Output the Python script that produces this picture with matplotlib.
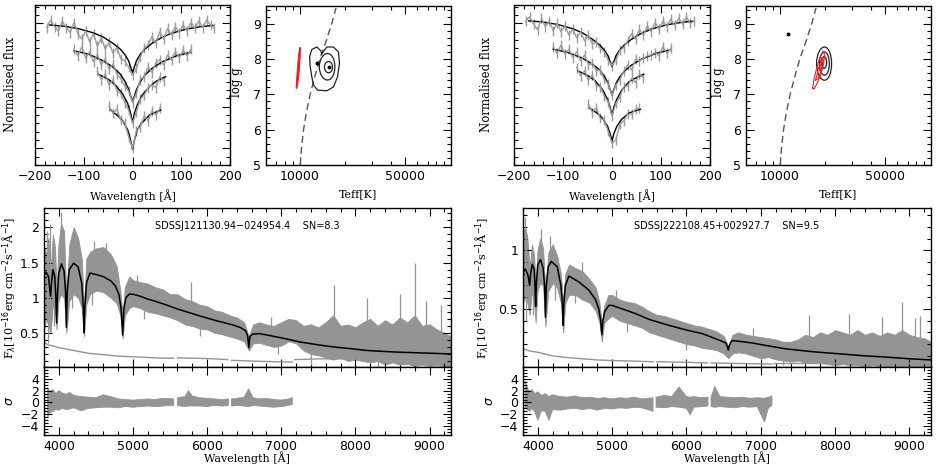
import numpy as np
import matplotlib
matplotlib.use("Agg")
import matplotlib.pyplot as plt
from matplotlib.ticker import MultipleLocator, FixedLocator, FuncFormatter, NullFormatter
from matplotlib.patches import Ellipse, Polygon

plt.rcParams['font.family'] = ['DejaVu Sans']
plt.rcParams['axes.unicode_minus'] = True
SERIF = 'DejaVu Serif'

# ---------------- data: line profiles (offset normalised flux) ----------------
# left object
L_hb_mx = [-170, -140, -110, -80, -60, -40, -25, -15, -8, 0, 8, 15, 25, 40, 60, 80, 110, 140, 165]
L_hb_my = [3.36, 3.33, 3.27, 3.17, 3.07, 2.92, 2.78, 2.64, 2.50, 2.22, 2.50, 2.64, 2.78, 2.92, 3.06, 3.16, 3.26, 3.32, 3.35]
L_hg_mx = [-120, -90, -60, -40, -25, -15, -8, 0, 8, 15, 25, 40, 60, 90, 118]
L_hg_my = [2.74, 2.66, 2.50, 2.35, 2.18, 2.00, 1.82, 1.52, 1.80, 1.98, 2.15, 2.32, 2.47, 2.62, 2.70]
L_hd_mx = [-70, -50, -35, -20, -10, -4, 0, 4, 10, 20, 35, 50, 68]
L_hd_my = [2.18, 2.06, 1.92, 1.70, 1.48, 1.25, 1.02, 1.25, 1.45, 1.68, 1.88, 2.02, 2.12]
L_he_mx = [-45, -30, -20, -10, -4, 0, 4, 10, 20, 35, 58]
L_he_my = [1.32, 1.18, 1.06, 0.85, 0.60, 0.38, 0.60, 0.85, 1.02, 1.20, 1.32]

L_hb_obs = [3.30, 3.48, 3.32, 3.22, 3.45, 3.30, 3.18, 3.42, 3.15, 3.02, 3.22, 2.95, 3.15, 2.85, 3.05,
            2.78, 2.95, 2.68, 2.82, 2.55, 2.50, 2.35, 2.15, 2.32, 2.60, 2.80, 2.88, 3.08, 2.92, 3.20,
            3.02, 3.28, 3.12, 3.32, 3.18, 3.36, 3.22, 3.42, 3.28, 3.46, 3.30, 3.48, 3.36, 3.28]
L_hg_obs = [2.78, 2.62, 2.84, 2.56, 2.72, 2.48, 2.65, 2.40, 2.55, 2.30, 2.42, 2.18, 2.08, 1.90, 1.78,
            1.50, 1.72, 2.05, 2.12, 2.35, 2.22, 2.46, 2.52, 2.40, 2.64, 2.52, 2.72, 2.58, 2.76, 2.62, 2.78]
L_hd_obs = [2.25, 2.05, 2.18, 1.92, 2.05, 1.78, 1.72, 1.50, 1.32, 1.00, 1.28, 1.58, 1.68, 1.85, 1.92,
            1.86, 2.12, 2.02]
L_he_obs = [1.42, 1.24, 1.34, 1.08, 1.02, 0.68, 0.40, 0.82, 0.92, 1.18, 1.06, 1.30, 1.20, 1.36]

# right object
R_hb_my = [3.46, 3.43, 3.37, 3.27, 3.17, 3.02, 2.88, 2.75, 2.62, 2.36, 2.62, 2.75, 2.88, 3.02, 3.16, 3.26, 3.36, 3.42, 3.45]
R_hg_my = [2.78, 2.70, 2.56, 2.42, 2.28, 2.12, 1.96, 1.68, 1.95, 2.10, 2.25, 2.40, 2.54, 2.68, 2.76]
R_hd_mx = [-70, -50, -35, -20, -10, -4, 0, 4, 10, 20, 35, 50, 65]
R_hd_my = [2.26, 2.15, 2.03, 1.82, 1.60, 1.40, 1.20, 1.40, 1.58, 1.80, 2.00, 2.10, 2.18]
R_he_my = [1.36, 1.24, 1.13, 0.95, 0.76, 0.58, 0.76, 0.93, 1.10, 1.25, 1.34]

R_hb_obs = [3.45, 3.56, 3.38, 3.25, 3.52, 3.32, 3.46, 3.22, 3.40, 3.20, 3.34, 3.12, 3.26, 3.05, 3.20,
            2.98, 3.12, 2.90, 2.95, 2.80, 2.72, 2.52, 2.38, 2.52, 2.75, 2.82, 2.98, 3.15, 3.02, 3.26,
            3.12, 3.34, 3.20, 3.42, 3.26, 3.46, 3.32, 3.50, 3.35, 3.52, 3.38, 3.55, 3.40, 3.46]
R_hg_obs = [2.84, 2.68, 2.88, 2.66, 2.78, 2.58, 2.72, 2.50, 2.64, 2.40, 2.45, 2.26, 2.28, 2.06, 1.95,
            1.68, 1.92, 2.05, 2.25, 2.40, 2.28, 2.54, 2.50, 2.56, 2.62, 2.64, 2.70, 2.62, 2.84, 2.68, 2.80]
R_hd_obs = [2.34, 2.14, 2.26, 2.04, 2.16, 1.90, 1.88, 1.66, 1.52, 1.18, 1.48, 1.64, 1.88, 1.90, 2.08,
            1.98, 2.18, 2.10]
R_he_obs = [1.46, 1.26, 1.38, 1.12, 1.08, 0.82, 0.52, 0.60, 0.98, 1.06, 1.22, 1.22, 1.34, 1.36]

hb_ox = list(range(-176, 169, 8))
hg_ox = list(range(-120, 121, 8))
hd_ox = list(range(-72, 65, 8))
he_ox = list(range(-48, 57, 8))
prof_err = 0.12

# ---------------- data: Teff / log g planes ----------------
dash_teff = [10100, 10300, 10620, 11100, 11750, 12600, 13600, 14950, 16300, 17400]
dash_logg = [5.0, 5.5, 6.0, 6.5, 7.0, 7.5, 8.0, 8.5, 9.0, 9.45]

L_heart_teff = [14030, 15130, 16740, 18060, 18340, 17790, 16740, 15130, 13140, 12360, 12050, 11750, 11640, 12050, 13000, 13820, 14030]
L_heart_logg = [8.15, 8.34, 8.34, 8.20, 7.87, 7.49, 7.21, 7.10, 7.12, 7.26, 7.49, 7.78, 8.06, 8.27, 8.34, 8.23, 8.15]
L_ell_teff = [15300, 15550]
L_ell_logg = [7.78, 7.77]
L_ell_w = [3600, 1900]
L_ell_h = [0.75, 0.32]
L_dot_teff = [13100, 15650]
L_dot_logg = [7.90, 7.78]
L_red_teff = [9500, 9580, 9700, 9850, 10000, 10100, 10130, 10050, 9920, 9740, 9580, 9480, 9500]
L_red_logg = [7.20, 7.45, 7.80, 8.10, 8.28, 8.33, 8.25, 7.95, 7.60, 7.32, 7.17, 7.18, 7.20]

R_ell_teff = [19800, 19800, 19700]
R_ell_logg = [7.87, 7.87, 7.90]
R_ell_w = [4500, 3000, 1500]
R_ell_h = [0.94, 0.66, 0.33]
R_dot_teff = [11290]
R_dot_logg = [8.72]
R_red1_teff = [16500, 16900, 17600, 18400, 19300, 19900, 19500, 18700, 17700, 16900, 16500]
R_red1_logg = [7.17, 7.45, 7.75, 8.02, 8.22, 8.12, 7.85, 7.55, 7.32, 7.15, 7.17]
R_red2_teff = [17300, 18100, 19000, 19500, 18900, 18000, 17300]
R_red2_logg = [7.40, 7.75, 8.05, 7.98, 7.70, 7.45, 7.40]
R_red3_teff = [18300, 18900, 19200, 18700, 18300]
R_red3_logg = [7.70, 7.95, 7.90, 7.65, 7.70]

# ---------------- data: spectra ----------------
band_wave = [3800, 3830, 3860, 3889, 3920, 3950, 3970, 3995, 4030, 4070, 4102, 4140, 4200, 4260, 4310, 4340,
             4370, 4420, 4500, 4600, 4700, 4780, 4830, 4861, 4890, 4950, 5000, 5100, 5200, 5300, 5400, 5500,
             5600, 5700, 5800, 5900, 6000, 6100, 6200, 6300, 6400, 6500, 6563, 6620, 6700, 6800, 6900, 7000,
             7100, 7200, 7300, 7400, 7500, 7600, 7700, 7800, 7900, 8000, 8100, 8200, 8300, 8400, 8500, 8600,
             8700, 8800, 8900, 9000, 9100, 9200, 9290]
L_hi = [1.75, 1.60, 1.85, 1.40, 1.90, 1.70, 1.10, 1.75, 2.05, 1.95, 1.00, 1.75, 2.00, 1.85, 1.55, 0.85,
        1.55, 1.65, 1.70, 1.72, 1.62, 1.45, 1.10, 0.75, 1.15, 1.30, 1.25, 1.22, 1.20, 1.15, 1.12, 1.05,
        1.05, 0.98, 0.95, 0.90, 0.88, 0.82, 0.80, 0.75, 0.72, 0.65, 0.45, 0.62, 0.65, 0.62, 0.60, 0.65,
        0.70, 0.68, 0.60, 0.62, 0.58, 0.65, 0.75, 0.60, 0.62, 0.58, 0.65, 0.70, 0.60, 0.68, 0.62, 0.72,
        0.65, 0.75, 0.60, 0.62, 0.55, 0.50, 0.45]
L_lo = [0.55, 0.70, 0.60, 0.50, 0.90, 0.80, 0.55, 0.95, 1.05, 1.00, 0.50, 0.95, 1.05, 1.00, 0.85, 0.45,
        0.90, 1.05, 1.10, 1.08, 1.00, 0.92, 0.75, 0.42, 0.75, 0.85, 0.88, 0.85, 0.80, 0.78, 0.75, 0.72,
        0.68, 0.62, 0.60, 0.56, 0.55, 0.50, 0.48, 0.45, 0.42, 0.38, 0.25, 0.35, 0.36, 0.33, 0.30, 0.32,
        0.38, 0.35, 0.25, 0.20, 0.18, 0.15, 0.12, 0.15, 0.10, 0.12, 0.10, 0.08, 0.10, 0.05, 0.08, 0.05,
        0.06, 0.03, 0.05, 0.03, 0.04, 0.02, 0.02]
R_hi = [1.15, 1.20, 1.10, 0.85, 1.05, 0.95, 0.70, 1.00, 1.10, 1.02, 0.65, 0.98, 1.05, 0.95, 0.80, 0.55,
        0.80, 0.88, 0.85, 0.82, 0.75, 0.68, 0.55, 0.38, 0.52, 0.62, 0.62, 0.58, 0.56, 0.55, 0.52, 0.48,
        0.45, 0.44, 0.42, 0.40, 0.38, 0.36, 0.35, 0.33, 0.31, 0.27, 0.18, 0.28, 0.30, 0.28, 0.27, 0.26,
        0.25, 0.24, 0.22, 0.22, 0.24, 0.28, 0.26, 0.30, 0.28, 0.32, 0.30, 0.28, 0.32, 0.28, 0.30, 0.27,
        0.30, 0.28, 0.32, 0.28, 0.26, 0.25, 0.22]
R_lo = [0.55, 0.60, 0.55, 0.45, 0.65, 0.55, 0.38, 0.65, 0.72, 0.70, 0.35, 0.65, 0.72, 0.68, 0.55, 0.30,
        0.55, 0.62, 0.62, 0.58, 0.55, 0.48, 0.38, 0.22, 0.38, 0.42, 0.44, 0.40, 0.38, 0.36, 0.34, 0.30,
        0.28, 0.26, 0.24, 0.22, 0.20, 0.19, 0.17, 0.16, 0.15, 0.12, 0.08, 0.12, 0.13, 0.12, 0.10, 0.08,
        0.09, 0.07, 0.06, 0.05, 0.06, 0.04, 0.05, 0.04, 0.03, 0.02, 0.03, 0.02, 0.02, 0.01, 0.02, 0.01,
        0.01, 0.01, 0.01, 0.01, 0.01, 0.01, 0.01]

L_spike_wave = [3835, 3880, 4027, 4060, 4215, 4480, 4640, 5060, 5780, 6860, 7716, 8160, 8600, 8811, 8950, 9150]
L_spike_top = [1.95, 2.05, 2.22, 1.95, 1.95, 1.80, 1.78, 1.32, 1.22, 0.72, 1.18, 1.00, 1.05, 1.49, 0.95, 0.90]
L_dip_wave = [3850, 3935, 4180, 4450, 5150, 5900, 6950, 7400, 8300, 9000]
L_dip_bot = [0.35, 0.60, 0.85, 0.90, 0.70, 0.45, 0.20, 0.05, 0.02, 0.01]
R_spike_wave = [3830, 4036, 4170, 4600, 5050, 6900, 7646, 8184, 8632, 8901, 9080, 9148]
R_spike_top = [1.28, 1.18, 1.12, 0.90, 0.66, 0.34, 0.45, 0.46, 0.43, 0.56, 0.42, 0.44]
R_dip_wave = [3845, 3935, 4230, 4500, 5200, 6000, 7300]
R_dip_bot = [0.40, 0.45, 0.58, 0.55, 0.30, 0.15, 0.02]

L_mod_wave = [3800, 3830, 3860, 3875, 3889, 3900, 3920, 3945, 3958, 3970, 3982, 4000, 4036, 4070, 4090, 4102,
              4114, 4140, 4200, 4260, 4310, 4330, 4340, 4350, 4375, 4420, 4500, 4600, 4700, 4760, 4810, 4840,
              4861, 4878, 4905, 4950, 5000, 5100, 5200, 5300, 5455, 5600, 5750, 5905, 6100, 6356, 6450, 6520,
              6548, 6563, 6578, 6610, 6700, 6806, 7000, 7257, 7500, 7707, 7900, 8158, 8400, 8608, 8900, 9290]
L_mod_flux = [1.32, 1.36, 1.30, 1.15, 1.02, 1.20, 1.40, 1.30, 1.05, 0.64, 1.05, 1.35, 1.48, 1.38, 1.10, 0.58,
              1.10, 1.40, 1.49, 1.44, 1.20, 0.85, 0.50, 0.85, 1.22, 1.35, 1.33, 1.30, 1.24, 1.17, 1.05, 0.85,
              0.47, 0.85, 1.00, 1.05, 1.05, 1.02, 0.98, 0.95, 0.895, 0.84, 0.79, 0.74, 0.68, 0.61, 0.575, 0.53,
              0.45, 0.29, 0.45, 0.48, 0.49, 0.47, 0.43, 0.37, 0.33, 0.30, 0.28, 0.25, 0.235, 0.225, 0.215, 0.20]
R_mod_wave = [3800, 3830, 3860, 3875, 3889, 3902, 3925, 3950, 3960, 3970, 3980, 4000, 4036, 4070, 4090, 4102,
              4114, 4140, 4180, 4260, 4310, 4330, 4340, 4350, 4370, 4417, 4552, 4686, 4776, 4820, 4845, 4861,
              4875, 4900, 4955, 5000, 5314, 5500, 5762, 6000, 6211, 6435, 6530, 6555, 6563, 6572, 6600, 6614,
              6700, 6883, 7100, 7332, 7700, 8004, 8400, 8677, 9000, 9290]
R_mod_flux = [0.81, 0.84, 0.80, 0.76, 0.70, 0.80, 0.88, 0.84, 0.72, 0.52, 0.72, 0.88, 0.92, 0.85, 0.70, 0.43,
              0.70, 0.86, 0.905, 0.86, 0.70, 0.55, 0.36, 0.55, 0.70, 0.78, 0.73, 0.66, 0.58, 0.50, 0.40, 0.28,
              0.40, 0.48, 0.53, 0.53, 0.46, 0.41, 0.36, 0.32, 0.29, 0.235, 0.21, 0.17, 0.15, 0.18, 0.22, 0.23,
              0.225, 0.21, 0.185, 0.16, 0.135, 0.12, 0.10, 0.09, 0.075, 0.065]

L_err_wave = [3800, 3850, 3900, 4000, 4100, 4200, 4400, 4600, 4800, 5000, 5200, 5400, 5550, 5575, 5600, 5800,
              6000, 6280, 6305, 6330, 6600, 6900, 7150, 7165, 7180, 7500, 8000, 8500, 9000, 9290]
L_err_flux = [0.37, 0.33, 0.32, 0.29, 0.27, 0.25, 0.21, 0.19, 0.17, 0.16, 0.15, 0.14, 0.14, np.nan, 0.145, 0.14,
              0.135, 0.12, np.nan, 0.11, 0.10, 0.09, 0.085, np.nan, 0.12, 0.13, 0.13, 0.13, 0.13, 0.13]
R_err_wave = [3800, 3900, 4000, 4200, 4400, 4600, 4800, 5000, 5300, 5550, 5575, 5600, 6000, 6280, 6305, 6330,
              6700, 7150, 7165, 7180, 8000, 9290]
R_err_flux = [0.16, 0.14, 0.13, 0.10, 0.085, 0.075, 0.065, 0.06, 0.055, 0.05, np.nan, 0.05, 0.045, 0.04, np.nan,
              0.04, 0.035, 0.03, np.nan, 0.035, 0.035, 0.035]

# ---------------- data: residuals (sigma) ----------------
L_res_wave = [3850, 3880, 3920, 3960, 4000, 4050, 4100, 4150, 4200, 4300, 4400, 4500, 4600, 4700, 4800, 4900,
              5000, 5100, 5200, 5300, 5400, 5550, 5575, 5600, 5700, 5750, 5800, 5900, 6000, 6100, 6200, 6290,
              6310, 6330, 6400, 6500, 6560, 6620, 6700, 6800, 6900, 7000, 7100, 7150]
L_res_hi = [2.5, 1.8, 2.2, 1.5, 2.0, 1.6, 1.4, 1.7, 1.2, 1.0, 0.9, 0.8, 1.3, 1.0, 0.6, 0.5,
            0.4, 0.5, 0.6, 0.5, 0.7, 0.6, np.nan, 0.8, 1.0, 2.0, 1.1, 0.8, 0.7, 0.6, 0.5, 0.6,
            np.nan, 0.6, 0.7, 0.9, 2.3, 0.8, 0.6, 0.7, 0.5, 0.4, 0.6, 0.8]
L_res_lo = [-2.5, -1.8, -1.5, -1.2, -1.3, -1.0, -1.2, -1.1, -0.9, -1.4, -1.0, -0.9, -0.8, -0.8, -0.9, -0.7,
            -0.8, -0.7, -0.6, -0.7, -0.6, -0.5, np.nan, -0.5, -0.7, -0.6, -0.6, -0.6, -0.7, -0.5, -0.6, -0.5,
            np.nan, -0.6, -0.5, -0.6, -0.7, -0.5, -0.6, -0.7, -0.8, -0.7, -0.5, -0.3]
R_res_wave = [3830, 3860, 3890, 3920, 3960, 4000, 4050, 4100, 4150, 4200, 4300, 4400, 4500, 4600, 4700, 4800,
              4900, 5000, 5100, 5200, 5300, 5400, 5550, 5570, 5590, 5700, 5800, 5900, 6000, 6050, 6100, 6200,
              6290, 6310, 6330, 6380, 6450, 6550, 6650, 6750, 6850, 6950, 7050, 7100, 7150]
R_res_hi = [3.6, 2.5, 1.8, 2.2, 1.5, 1.8, 1.2, 1.5, 1.0, 1.3, 1.0, 0.9, 1.1, 0.8, 0.9, 0.7,
            0.8, 0.6, 0.8, 0.7, 0.9, 0.6, 0.8, np.nan, 0.9, 1.2, 1.0, 2.6, 1.0, 0.9, 1.0, 0.8,
            0.9, np.nan, 0.9, 2.7, 1.0, 0.9, 0.8, 0.9, 0.7, 0.8, 0.7, 0.9, 1.1]
R_res_lo = [-1.0, -1.2, -1.5, -1.0, -1.6, -3.0, -1.4, -1.5, -3.0, -1.2, -1.3, -1.1, -1.0, -1.2, -1.0, -1.3,
            -1.0, -1.1, -0.9, -1.0, -0.8, -0.9, -1.5, np.nan, -0.8, -0.9, -0.7, -0.8, -1.0, -2.1, -0.8, -0.7,
            -0.6, np.nan, -0.7, -0.8, -0.7, -0.8, -0.9, -0.7, -0.8, -0.7, -3.3, -1.0, -0.5]
res_ticks = [-4, -2, 0, 2, 4]

titles = ["SDSSJ121130.94\u2212024954.4    SN=8.3", "SDSSJ222108.45+002927.7    SN=9.5"]

GRAY = '#949494'
PGRAY = '#9c9c9c'
RED = '#e3242b'

fig = plt.figure(figsize=(9.41, 4.70), dpi=100)


def rect(x0, y0, x1, y1):
    return [x0 / 941, 1 - y1 / 470, (x1 - x0) / 941, (y1 - y0) / 470]


def style(ax):
    ax.tick_params(which='both', direction='in', top=True, right=True, labelsize=9, width=0.8)
    ax.tick_params(which='major', length=5.5)
    ax.tick_params(which='minor', length=3)
    for s in ax.spines.values():
        s.set_linewidth(1.0)


gfmt = FuncFormatter(lambda v, p: ('%g' % v).replace('-', '\u2212'))

# ---------------- profile panels ----------------
def profile_panel(r, models, obs, ylx):
    ax = fig.add_axes(rect(*r))
    style(ax)
    for (ox, oy) in obs:
        ax.errorbar(ox, oy, yerr=prof_err, color=PGRAY, lw=1.0, elinewidth=1.0, capsize=0)
    for (mx, my) in models:
        ax.plot(mx, my, color='black', lw=1.0)
    ax.set_xlim(-200, 200)
    ax.set_ylim(0, 3.84)
    ax.xaxis.set_major_locator(MultipleLocator(100))
    ax.xaxis.set_minor_locator(MultipleLocator(20))
    ax.yaxis.set_major_locator(MultipleLocator(1.0, offset=0.4))
    ax.yaxis.set_minor_locator(MultipleLocator(0.2))
    ax.yaxis.set_major_formatter(NullFormatter())
    ax.xaxis.set_major_formatter(gfmt)
    ax.set_xlabel('Wavelength [\u00c5]', family=SERIF, fontsize=8)
    ax.xaxis.set_label_coords(0.5, -0.15)
    ax.set_ylabel('Normalised flux', family=SERIF, fontsize=8.5)
    ax.yaxis.set_label_coords(ylx, 0.5)
    return ax


profile_panel((35, 5, 230, 165),
              [(L_hb_mx, L_hb_my), (L_hg_mx, L_hg_my), (L_hd_mx, L_hd_my), (L_he_mx, L_he_my)],
              [(hb_ox, L_hb_obs), (hg_ox, L_hg_obs), (hd_ox, L_hd_obs), (he_ox, L_he_obs)], -0.092)
profile_panel((514, 5, 710, 165),
              [(L_hb_mx, R_hb_my), (L_hg_mx, R_hg_my), (R_hd_mx, R_hd_my), (L_he_mx, R_he_my)],
              [(hb_ox, R_hb_obs), (hg_ox, R_hg_obs), (hd_ox, R_hd_obs), (he_ox, R_he_obs)], -0.107)

# ---------------- Teff / logg panels ----------------
def teff_panel(r, ylx):
    ax = fig.add_axes(rect(*r))
    style(ax)
    ax.set_xscale('log')
    ax.set_xlim(6000, 100000)
    ax.set_ylim(5, 9.5)
    ax.xaxis.set_major_locator(FixedLocator([10000, 50000]))
    ax.xaxis.set_minor_locator(FixedLocator([7000, 8000, 9000, 20000, 30000, 40000, 60000, 70000, 80000, 90000]))
    ax.xaxis.set_major_formatter(FuncFormatter(lambda v, p: '%d' % v))
    ax.xaxis.set_minor_formatter(NullFormatter())
    ax.yaxis.set_major_locator(MultipleLocator(1))
    ax.yaxis.set_minor_locator(MultipleLocator(0.2))
    ax.plot(dash_teff, dash_logg, color='#555555', lw=1.0, dashes=(5, 3))
    ax.set_xlabel('Teff[K]', family=SERIF, fontsize=8)
    ax.xaxis.set_label_coords(0.5, -0.15)
    ax.set_ylabel('log g', family=SERIF, fontsize=8.5)
    ax.yaxis.set_label_coords(ylx, 0.52)
    return ax


t1 = teff_panel((266, 6, 451, 165), -0.124)
t1.add_patch(Polygon(list(zip(L_red_teff, L_red_logg)), closed=True, fc=RED, ec=RED, lw=0.8))
t1.plot(L_heart_teff, L_heart_logg, color='#222222', lw=0.9)
for cx, cy, w, h in zip(L_ell_teff, L_ell_logg, L_ell_w, L_ell_h):
    t1.add_patch(Ellipse((cx, cy), w, h, fill=False, ec='#222222', lw=0.9))
t1.plot(L_dot_teff, L_dot_logg, 'o', color='black', ms=1.8)

t2 = teff_panel((746, 6, 931, 165), -0.114)
for cx, cy, w, h in zip(R_ell_teff, R_ell_logg, R_ell_w, R_ell_h):
    t2.add_patch(Ellipse((cx, cy), w, h, fill=False, ec='#222222', lw=0.9))
for tx, gy in [(R_red1_teff, R_red1_logg), (R_red2_teff, R_red2_logg), (R_red3_teff, R_red3_logg)]:
    t2.plot(tx, gy, color=RED, lw=0.8)
t2.plot(R_dot_teff, R_dot_logg, 'o', color='black', ms=1.8)

# ---------------- spectra + residuals ----------------
def spec_panel(rs, rr, hi, lo, sw, st, dw, db, mw, mf, ew, ef, ylim, title, ylx,
               rw, rhi, rlo, rylx):
    ax = fig.add_axes(rect(*rs))
    style(ax)
    ax.fill_between(band_wave, lo, hi, color=GRAY, lw=0.6, ec=GRAY)
    ax.vlines(sw, np.interp(sw, band_wave, lo), st, color=GRAY, lw=0.9)
    ax.vlines(dw, db, np.interp(dw, band_wave, hi), color=GRAY, lw=0.9)
    ax.plot(ew, ef, color=GRAY, lw=1.0)
    ax.plot(mw, mf, color='black', lw=1.1)
    ax.set_xlim(3800, 9290)
    ax.set_ylim(*ylim)
    ax.xaxis.set_major_locator(MultipleLocator(1000))
    ax.xaxis.set_minor_locator(MultipleLocator(200))
    ax.yaxis.set_major_locator(MultipleLocator(0.5))
    ax.yaxis.set_minor_locator(MultipleLocator(0.1))
    ax.yaxis.set_major_formatter(gfmt)
    ax.set_xticklabels([])
    ax.text(0.5, 0.885, title, transform=ax.transAxes, ha='center', va='center', fontsize=7)
    ax.set_ylabel('F$_\\lambda$[10$^{-16}$erg cm$^{-2}$s$^{-1}$\u00c5$^{-1}$]', family=SERIF, fontsize=8)
    ax.yaxis.set_label_coords(ylx, 0.5)

    axr = fig.add_axes(rect(*rr))
    style(axr)
    axr.fill_between(rw, rlo, rhi, color=GRAY, lw=0.6, ec=GRAY)
    axr.set_xlim(3800, 9290)
    axr.set_ylim(-5.5, 6)
    axr.xaxis.set_major_locator(MultipleLocator(1000))
    axr.xaxis.set_minor_locator(MultipleLocator(200))
    axr.yaxis.set_major_locator(FixedLocator(res_ticks))
    axr.yaxis.set_minor_locator(MultipleLocator(0.5))
    axr.yaxis.set_major_formatter(gfmt)
    axr.set_ylabel('$\\sigma$', family=SERIF, fontsize=9)
    axr.yaxis.set_label_coords(rylx, 0.5)
    axr.set_xlabel('Wavelength [\u00c5]', family=SERIF, fontsize=8)
    axr.xaxis.set_label_coords(0.5, -0.24)
    return ax, axr


spec_panel((44, 208, 451, 367), (44, 367, 451, 435), L_hi, L_lo, L_spike_wave, L_spike_top,
           L_dip_wave, L_dip_bot, L_mod_wave, L_mod_flux, L_err_wave, L_err_flux, (0.015, 2.275),
           titles[0], -0.064, L_res_wave, L_res_hi, L_res_lo, -0.069)
spec_panel((523, 208, 931, 367), (523, 367, 931, 435), R_hi, R_lo, R_spike_wave, R_spike_top,
           R_dip_wave, R_dip_bot, R_mod_wave, R_mod_flux, R_err_wave, R_err_flux, (0.005, 1.36),
           titles[1], -0.078, R_res_wave, R_res_hi, R_res_lo, -0.066)

fig.savefig('out.png', dpi=100)
